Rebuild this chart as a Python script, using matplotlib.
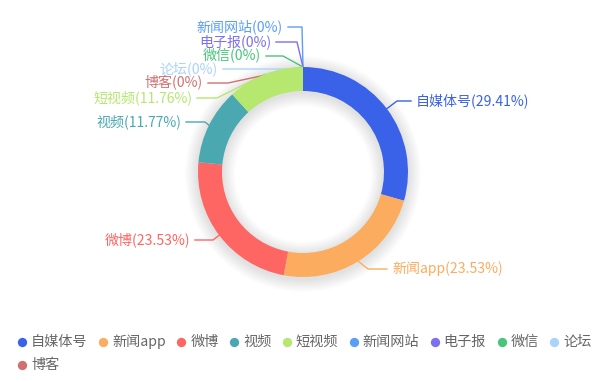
import numpy as np
import matplotlib
matplotlib.use("Agg")
import matplotlib.pyplot as plt
from matplotlib.patches import Wedge

plt.rcParams['font.family'] = ['Noto Sans CJK SC', 'DejaVu Sans']

# data
names = ['自媒体号', '新闻app', '微博', '视频', '短视频', '新闻网站', '电子报', '微信', '论坛', '博客']
counts = [5, 4, 4, 2, 2, 0, 0, 0, 0, 0]
pct_labels = ['29.41%', '23.53%', '23.53%', '11.77%', '11.76%', '0%', '0%', '0%', '0%', '0%']
colors = ['#3a62e8', '#fcac5e', '#fe6663', '#4aa9b0', '#b6e76f',
          '#5a9ef5', '#7b6ff2', '#49c47a', '#a9d3fb', '#d1706f']

# label layout (pixel coords of the text edge next to the line, side, elbow x)
label_pos = {
    '自媒体号': (416, 101, 'left', 397),
    '新闻app': (392, 269, 'left', 368),
    '微博': (190, 240, 'right', 213),
    '视频': (181, 122, 'right', 205),
    '短视频': (192, 98, 'right', 217),
    '新闻网站': (283, 27, 'right', 302),
    '电子报': (271, 42, 'right', 297),
    '微信': (261, 56, 'right', 283),
    '论坛': (218, 69, 'right', 290),
    '博客': (203, 83, 'right', 228),
}

W, H = 606, 382
cx, cy = 303, 172
r_out, ring = 105, 24
fs = 10.1
fs_leg = 10.2

fig = plt.figure(figsize=(W / 100, H / 100), dpi=100)
ax = fig.add_axes([0, 0, 1, 1])

def Y(y):
    return H - y

# soft shadow
for i in range(10):
    d = 1.3 * (i + 1)
    ax.add_patch(Wedge((cx, Y(cy) - 2), r_out + d, 0, 360, width=ring + 2 * d,
                       facecolor='black', alpha=0.012, lw=0, zorder=1))

wedges, _ = ax.pie(counts, startangle=90, counterclock=False, colors=colors,
                   center=(cx, Y(cy)), radius=r_out, frame=True,
                   wedgeprops=dict(width=ring, linewidth=0))
for w in wedges:
    w.set_zorder(3)
ax.set_xlim(0, W)
ax.set_ylim(0, H)
ax.set_aspect('equal')
ax.axis('off')

total = sum(counts)
start = 90.0
for name, c, p, col in zip(names, counts, pct_labels, colors):
    sweep = 360.0 * c / total
    mid = np.deg2rad(start - sweep / 2)
    start -= sweep
    ax_, ay_ = cx + r_out * np.cos(mid), Y(cy) + r_out * np.sin(mid)
    tx, ty, ha, ex = label_pos[name]
    gap = 5 if ha == 'left' else -5
    ax.plot([ax_, ex, tx - gap], [ay_, Y(ty), Y(ty)], color=col, lw=1, zorder=2)
    ax.text(tx, Y(ty), f'{name}({p})', color=col, fontsize=fs,
            ha=ha, va='center', zorder=4)

# legend
fig.canvas.draw()
renderer = fig.canvas.get_renderer()
x, y = 22, 342
for name, col in zip(names, colors):
    t = ax.text(x + 9, Y(y), name, color='#666666', fontsize=fs_leg, va='center')
    tw = t.get_window_extent(renderer).width
    if x + 9 + tw > W - 2:
        x, y = 22, y + 23
        t.set_position((x + 9, Y(y)))
    ax.scatter([x], [Y(y)], s=45, color=col, lw=0, zorder=4)
    x += 9 + tw + 15.5

fig.savefig('out.png', dpi=100)
